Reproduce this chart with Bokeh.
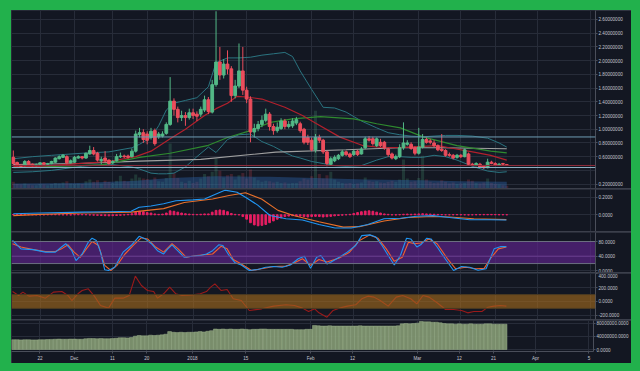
import pandas as pd
from bokeh.plotting import figure
from bokeh.layouts import column
from bokeh.models import (Range1d, FixedTicker, NumeralTickFormatter, BoxAnnotation,
                          Span, Label, ColumnDataSource, GlobalInlineStyleSheet)
from bokeh.embed import file_html
from bokeh.resources import INLINE

# ---------------- data ----------------
BASE = pd.Timestamp("2017-11-22")


def day(s):
    return (pd.Timestamp(s) - BASE).days


first_candle = "2017-11-15"
opens = [0.59, 0.515, 0.476, 0.47, 0.53, 0.49, 0.47, 0.49, 0.51, 0.49, 0.50, 0.52, 0.57, 0.59, 0.60, 0.51, 0.52,
         0.58, 0.60, 0.58, 0.64, 0.69, 0.65, 0.54, 0.58, 0.55, 0.51, 0.54, 0.60, 0.61, 0.61, 0.60,
         0.68, 0.92, 0.95, 0.93, 0.88, 0.98, 0.89, 0.90, 0.94, 1.07, 1.41, 1.29, 1.17, 1.20, 1.17,
         1.24, 1.22, 1.22, 1.28, 1.43, 1.25, 1.65, 1.98, 1.79, 1.95, 1.88, 1.49, 1.63, 1.85, 1.57,
         1.44, 0.96, 1.01, 1.07, 1.13, 1.22, 1.04, 0.98, 1.01, 1.12, 1.04, 1.05, 1.09, 1.08, 1.00,
         0.88, 0.84, 0.70, 0.88, 0.84, 0.67, 0.49, 0.54, 0.57, 0.62, 0.67, 0.64, 0.63, 0.68, 0.64,
         0.73, 0.86, 0.86, 0.76, 0.81, 0.81, 0.71, 0.64, 0.57, 0.60, 0.73, 0.78, 0.78, 0.73, 0.65,
         0.74, 0.85, 0.83, 0.80, 0.76, 0.71, 0.69, 0.63, 0.62, 0.59, 0.62, 0.60, 0.64, 0.49, 0.47,
         0.49, 0.47, 0.44, 0.52, 0.50, 0.48, 0.50, 0.485]
closes = [0.50, 0.476, 0.46, 0.53, 0.49, 0.47, 0.48, 0.51, 0.49, 0.50, 0.53, 0.58, 0.60, 0.62, 0.51, 0.54, 0.59,
          0.60, 0.58, 0.65, 0.69, 0.64, 0.55, 0.56, 0.54, 0.50, 0.53, 0.60, 0.61, 0.60, 0.59, 0.68,
          0.93, 0.95, 0.85, 0.84, 0.97, 0.79, 0.93, 0.93, 1.07, 1.41, 1.29, 1.17, 1.20, 1.17, 1.24,
          1.20, 1.19, 1.29, 1.43, 1.26, 1.65, 1.98, 1.79, 1.95, 1.88, 1.49, 1.63, 1.85, 1.57, 1.44,
          0.96, 1.01, 1.07, 1.13, 1.22, 1.04, 0.98, 1.03, 1.12, 1.04, 1.07, 1.12, 1.14, 0.98, 0.81,
          0.81, 0.70, 0.88, 0.84, 0.67, 0.50, 0.57, 0.59, 0.62, 0.67, 0.63, 0.60, 0.68, 0.63, 0.71,
          0.86, 0.84, 0.79, 0.86, 0.76, 0.73, 0.63, 0.58, 0.60, 0.73, 0.80, 0.80, 0.72, 0.65, 0.74,
          0.85, 0.81, 0.81, 0.76, 0.70, 0.69, 0.62, 0.62, 0.58, 0.62, 0.60, 0.70, 0.49, 0.48, 0.50,
          0.45, 0.44, 0.52, 0.50, 0.48, 0.49, 0.49, 0.4716]
highs = [0.69, 0.53, 0.49, 0.55, 0.55, 0.50, 0.50, 0.52, 0.52, 0.51, 0.54, 0.59, 0.62, 0.64, 0.62, 0.56, 0.61,
         0.62, 0.61, 0.66, 0.76, 0.74, 0.67, 0.60, 0.68, 0.56, 0.55, 0.64, 0.66, 0.63, 0.63, 0.72,
         0.98, 1.02, 1.00, 0.97, 1.02, 1.01, 0.96, 0.97, 1.10, 1.76, 1.45, 1.33, 1.27, 1.25, 1.30,
         1.30, 1.26, 1.33, 1.49, 1.47, 1.72, 2.72, 2.20, 2.02, 2.15, 1.92, 1.72, 2.25, 2.20, 1.62,
         1.48, 1.08, 1.12, 1.20, 1.30, 1.25, 1.08, 1.10, 1.16, 1.15, 1.12, 1.16, 1.18, 1.11, 1.02,
         0.92, 0.88, 0.93, 0.92, 0.86, 0.69, 0.60, 0.62, 0.64, 0.70, 0.69, 0.66, 0.70, 0.70, 0.74,
         0.89, 0.90, 0.89, 0.88, 0.86, 0.83, 0.73, 0.66, 0.63, 0.78, 1.10, 0.84, 0.81, 0.75, 1.02,
         0.93, 0.88, 0.86, 0.84, 0.78, 0.93, 0.71, 0.66, 0.64, 0.64, 0.64, 0.72, 0.66, 0.51, 0.52,
         0.51, 0.48, 0.57, 0.54, 0.52, 0.51, 0.51, 0.49]
lows = [0.48, 0.46, 0.45, 0.46, 0.48, 0.46, 0.46, 0.48, 0.48, 0.48, 0.49, 0.51, 0.56, 0.58, 0.49, 0.50, 0.51,
        0.57, 0.56, 0.57, 0.63, 0.62, 0.53, 0.49, 0.52, 0.48, 0.49, 0.53, 0.58, 0.58, 0.57, 0.59,
        0.66, 0.88, 0.80, 0.78, 0.85, 0.76, 0.86, 0.88, 0.92, 1.05, 1.20, 1.10, 1.12, 1.05, 1.14,
        1.15, 1.12, 1.18, 1.25, 1.22, 1.23, 1.62, 1.72, 1.74, 1.80, 1.40, 1.45, 1.60, 1.50, 1.38,
        0.81, 0.88, 0.97, 1.03, 1.10, 0.98, 0.92, 0.95, 0.99, 1.00, 1.01, 1.02, 1.06, 0.95, 0.78,
        0.77, 0.68, 0.66, 0.80, 0.64, 0.46, 0.47, 0.52, 0.55, 0.60, 0.61, 0.58, 0.61, 0.61, 0.63,
        0.71, 0.82, 0.76, 0.74, 0.74, 0.70, 0.60, 0.56, 0.55, 0.58, 0.70, 0.76, 0.70, 0.62, 0.63,
        0.72, 0.79, 0.78, 0.74, 0.68, 0.67, 0.60, 0.60, 0.56, 0.57, 0.58, 0.59, 0.47, 0.46, 0.46,
        0.44, 0.42, 0.43, 0.49, 0.47, 0.47, 0.48, 0.465]
volumes_m = [1.2, 0.8, 0.7, 0.9, 0.7, 0.6, 0.6, 0.8, 0.7, 0.6, 0.8, 1.0, 0.9, 1.1, 1.3, 0.9, 0.8,
             0.9, 0.8, 1.3, 1.6, 1.2, 1.5, 0.9, 1.4, 1.2, 1.0, 1.4, 2.3, 1.4, 1.2, 1.8,
             2.5, 2.0, 1.8, 1.7, 1.5, 2.0, 1.3, 1.2, 1.9,
             8.1,
             2.8, 1.9, 1.2, 1.0, 1.4, 1.0, 1.2, 1.8, 2.6, 2.2, 3.0,
             5.4,
             3.2, 2.0, 2.4, 2.6, 1.6, 2.4, 2.8, 1.8, 3.4, 2.0, 1.5, 1.2, 1.4, 1.3, 1.1, 1.2, 1.0, 1.1,
             0.9, 1.0, 1.0, 1.3, 1.8, 1.6, 2.2,
             14.0,
             2.6, 1.8, 2.4, 3.0, 1.6, 1.2, 1.0, 0.9, 1.0, 0.8, 0.9, 1.1, 2.0, 1.4, 1.2, 1.3, 1.1, 1.0,
             1.2, 1.4, 1.2, 1.6,
             5.2,
             1.8, 1.2, 1.3, 1.9,
             5.9,
             1.6, 1.2, 1.0, 1.1, 1.5, 1.2, 0.9, 1.1, 0.8, 0.9, 1.0, 1.6, 1.4, 1.0, 0.9, 1.1, 1.8, 1.0,
             0.8, 0.7, 0.6, 0.5]
vol_ma_days = [-7, 10, 25, 34, 46, 60, 72, 85, 100, 110, 122]
vol_ma_m = [0.9, 1.0, 1.4, 1.9, 2.2, 2.1, 1.9, 1.6, 1.5, 1.3, 1.2]

ma_red_days = [-7, 0, 10, 18, 25, 29, 34, 38, 43, 46, 49, 51.5, 54, 58, 64, 68.6, 72.3, 78.4, 84.5, 90, 95,
               100, 104, 107, 113.4, 117.8, 122]
ma_red = [0.455, 0.46, 0.50, 0.53, 0.60, 0.68, 0.86, 1.00, 1.20, 1.30, 1.38, 1.48, 1.47, 1.44, 1.32, 1.20,
          1.08, 0.885, 0.76, 0.73, 0.735, 0.75, 0.76, 0.73, 0.665, 0.62, 0.55]
ma_green_days = [-7, 0, 10, 16, 26, 34, 43.7, 49, 55, 60.2, 66, 73.3, 82, 88, 94.2, 100.3, 109, 117.8, 122]
ma_green = [0.44, 0.45, 0.47, 0.48, 0.59, 0.65, 0.76, 0.88, 0.98, 1.10, 1.15, 1.185, 1.15, 1.08, 1.02,
            0.885, 0.76, 0.68, 0.656]
ma_grey_days = [-7, 10, 26, 42, 61.6, 80, 94, 105, 122]
ma_grey = [0.485, 0.50, 0.535, 0.56, 0.666, 0.70, 0.73, 0.73, 0.715]

bb_days = [-7, -2, 3, 11, 18, 24, 26, 29, 31, 33, 35, 38, 41, 44, 46, 49, 52, 55, 58, 61, 64, 66, 68, 71,
           74, 77, 80, 84, 88, 91, 94, 97, 100, 103, 106, 109, 113, 117, 120, 122]
bb_upper = [0.57, 0.60, 0.62, 0.65, 0.67, 0.73, 0.78, 0.88, 1.05, 1.28, 1.38, 1.42, 1.46, 1.62, 1.97, 2.04,
            2.04, 2.05, 2.08, 2.10, 2.12, 2.06, 1.85, 1.58, 1.32, 1.31, 1.25, 1.12, 1.02, 0.95, 0.92, 0.90,
            0.89, 0.90, 0.91, 0.91, 0.90, 0.87, 0.80, 0.74]
bb_lower = [0.37, 0.38, 0.40, 0.46, 0.49, 0.45, 0.42, 0.36, 0.35, 0.35, 0.36, 0.45, 0.60, 0.74, 0.66, 0.85,
            0.92, 0.93, 0.82, 0.75, 0.66, 0.61, 0.58, 0.53, 0.50, 0.47, 0.46, 0.47, 0.55, 0.60, 0.60, 0.59,
            0.59, 0.62, 0.60, 0.55, 0.46, 0.39, 0.37, 0.38]

price_lines = [0.88736495, 0.47163104, 0.44177083]

macd_days = [-7, 0, 11, 18, 23.8, 25.9, 29, 32.3, 35.5, 40, 43, 45.1, 48.3, 51.5, 53.7, 56.9, 60.1, 64.3,
             68.6, 72.9, 77.1, 81.4, 85.7, 89.9, 94.2, 98.5, 102.7, 107, 112.3, 117.7, 121.9]
macd_line = [0.011, 0.02, 0.03, 0.035, 0.04, 0.086, 0.10, 0.125, 0.16, 0.17, 0.18, 0.22, 0.28, 0.257, 0.20,
             0.11, -0.008, -0.045, -0.06, -0.11, -0.15, -0.15, -0.11, -0.045, -0.04, -0.016, -0.01, -0.03,
             -0.057, -0.057, -0.06]
signal_days = [-7, 0, 11, 23.8, 32.3, 37.7, 45.1, 49.4, 53.7, 57.9, 62.2, 66.5, 72.9, 79.3, 83.5, 89.9,
               96.3, 102.7, 107, 113.4, 121.9]
signal_line = [-0.01, 0.005, 0.02, 0.03, 0.07, 0.14, 0.18, 0.22, 0.25, 0.18, 0.05, -0.01, -0.08, -0.14,
               -0.135, -0.07, -0.03, -0.02, -0.025, -0.045, -0.055]
macd_hist = [0.003, 0.004, 0.003, 0.002, 0.002, 0.001, 0.0, -0.001, 0.0, 0.002, 0.003, 0.003, 0.002, 0.0,
             0.0, -0.002, 0.002, 0.004, 0.004, 0.002, -0.002, -0.004, -0.006, -0.008,
             -0.01, -0.012, -0.01, -0.008, -0.005, -0.002, 0.005, 0.012,
             0.03, 0.04, 0.035, 0.025, 0.02, 0.01, 0.005, 0.008,
             0.02, 0.045, 0.04, 0.03, 0.02,
             0.012, 0.008, 0.005, 0.004, 0.006, 0.01, 0.01,
             0.03, 0.05, 0.055, 0.05, 0.035, 0.015, 0.005, 0.0,
             -0.02, -0.05, -0.09, -0.115, -0.125, -0.12, -0.11, -0.09, -0.07, -0.05, -0.035, -0.02,
             -0.015, -0.01, -0.012, -0.015, -0.02, -0.025, -0.02, -0.018, -0.02, -0.025, -0.022, -0.018,
             -0.012, -0.008, -0.004, 0.0, 0.005,
             0.015, 0.025, 0.035, 0.042, 0.045, 0.04, 0.03, 0.02, 0.01, 0.005,
             0.0, -0.002, 0.002, 0.006, 0.008, 0.006,
             0.008, 0.01, 0.012, 0.01, 0.008, 0.006, 0.004, 0.002, 0.0, 0.0,
             0.002, 0.003, 0.002, 0.0, -0.002, 0.0, 0.002, 0.003, 0.004, 0.004, 0.004, 0.003, 0.002,
             0.002, 0.001]

stoch_k_days = [-7.2, -5, -1.8, 1.4, 4, 5.6, 6.7, 8.3, 9.4, 11, 12.6, 13.6, 14.7, 15.8, 16.9, 17.9, 19.5,
                21.7, 23.8, 25.9, 27.5, 29.1, 30.7, 32.3, 33.4, 34.5, 35.5, 37.7, 39.8, 41.9, 43.5, 45.1,
                46.7, 47.8, 49.4, 51, 52.6, 54.7, 56.9, 59, 61.1, 63.3, 65.4, 67.5, 69.1, 70.7, 72.3,
                73.4, 75, 76.1, 78.2, 80.3, 82.5, 84.1, 86.2, 87.8, 89.4, 91, 92.6, 94.2, 95.8, 96.9,
                98.5, 99.5, 101.1, 102.2, 103.8, 105.9, 108.1, 110.2, 112.3, 114.5, 116.6, 118.7, 120.3,
                121.9]
stoch_k = [83, 60, 58, 51, 51, 65, 74, 55, 28, 46, 78, 89, 83, 51, 3, 1, 10, 51, 69, 94, 87, 74, 55, 46,
           60, 71, 60, 37, 40, 42, 46, 55, 71, 69, 42, 22, 16, 1, 4, 10, 12, 10, 16, 33, 40, 7, 37, 42, 19,
           24, 37, 51, 69, 96, 98, 92, 69, 42, 16, 42, 89, 87, 65, 71, 89, 87, 65, 33, 1, 12, 10, 2, 6, 60,
           66, 66]
stoch_d_days = [-7.2, -5, -1.8, 1.4, 4, 5.6, 7.3, 8.9, 10.5, 12.1, 13.6, 15.3, 16.9, 18.5, 20.1, 22.2,
                24.3, 26.4, 28.1, 30.2, 32.3, 34.5, 36.1, 38.2, 40.9, 43, 45.1, 47.3, 48.9, 50.5, 52.6,
                55.3, 57.9, 61.1, 64.3, 66.5, 68.6, 70.7, 72.9, 75, 78.2, 80.9, 83.5, 86.2, 88.3, 90.5,
                92.6, 94.7, 96.3, 97.9, 99.5, 101.7, 103.8, 106.5, 108.6, 111.3, 114, 116.1, 117.7,
                119.8, 121.9]
stoch_d = [74, 65, 58, 53, 53, 60, 71, 51, 37, 60, 80, 69, 15, 1, 15, 46, 69, 90, 87, 65, 51, 74, 60, 37,
           42, 44, 46, 67, 60, 31, 19, 1, 6, 12, 13, 22, 33, 15, 31, 24, 35, 51, 83, 98, 89, 60, 26, 37,
           78, 74, 76, 87, 74, 33, 6, 10, 6, 7, 33, 60, 65]

cci_days = [-7.2, -5.6, -4.5, -2.9, -0.8, 1.4, 3.5, 5.7, 7.3, 8.3, 9.9, 11, 12.6, 14.2, 15.8, 17.9, 19.5,
            21.7, 23.3, 24.9, 26.5, 28.1, 29.7, 30.7, 32.3, 33.9, 35.5, 37.1, 39.8, 41.9, 43.5, 44.6,
            45.7, 47.3, 48.9, 50.5, 52.6, 54.7, 57.9, 61.1, 64.3, 66.5, 68.6, 70.2, 71.8, 72.9, 75,
            76.6, 78.2, 80.3, 82.5, 84.1, 85.7, 87.3, 88.9, 91, 93.1, 94.8, 96.9, 98.5, 100.1, 101.7,
            103.8, 106, 108.1, 110.2, 111.8, 113.4, 115.5, 117.1, 118.7, 120.3, 121.9]
cci = [144, 87, 135, 77, 87, 48, 135, 144, 87, 14, 111, 159, 183, 77, -58, -96, 48, 48, 87, 366, 231, 159,
       144, 48, 111, 207, 111, 87, 96, 111, 144, 207, 255, 159, 173, 39, 14, -130, -106, -67, -48, -58,
       -96, -144, -106, -164, -226, -130, -96, -67, -48, 39, 77, 63, 14, -67, 63, 87, 39, -34, 87, 63,
       -19, -116, -116, -130, -164, -144, -144, -82, -67, -58, -67]

obv_m = [30, 30, 29.5, 30, 30, 29.5, 29.5, 30, 30,
         30.5, 31, 31.5, 32, 31.5, 31.5, 32, 32, 31.5, 31.5,
         33, 34, 33.5, 33, 33.5, 33,
         33, 33.5, 34.5, 36,
         36, 35.5, 37,
         41, 43, 42, 42,
         44, 43, 44, 45, 47,
         55,
         53, 52, 53, 52, 53, 53, 54, 55, 54, 56,
         58, 63,
         62, 63, 62, 63, 62, 62, 63, 62, 61, 62, 62, 63, 63, 62, 62, 62, 62, 62, 62, 62, 61, 61, 61, 62, 62,
         74,
         73, 72, 72, 73, 72, 72, 72, 72, 72, 72, 72, 73, 72, 72, 72, 72, 72, 72, 72, 72, 72, 73,
         79,
         80, 79, 80, 81,
         86,
         85, 85, 84, 84, 82, 80, 79, 79, 78, 79, 78, 78, 79, 78, 78, 78, 79, 79, 78, 78, 78, 78]

tick_dates = ["2017-11-22", "2017-12-01", "2017-12-11", "2017-12-20", "2018-01-01", "2018-01-15",
              "2018-02-01", "2018-02-12", "2018-03-01", "2018-03-12", "2018-03-21", "2018-04-01",
              "2018-04-15"]
tick_labels = ["22", "Dec", "11", "20", "2018", "15", "Feb", "12", "Mar", "12", "21", "Apr", "5"]

# ---------------- styling ----------------
BG = "#131722"
GRID = "#272c39"
AXL = "#4a4e5a"
TXT = "#c3c6ce"
FONT = "Liberation Sans"
FS = "4.6px"
UP = "#53b987"
DN = "#eb4d5c"
FRAME_W = 584
RIGHT_W = 36

start = day(first_candle)
days = [start + i for i in range(len(opens))]
tick_pos = [day(t) for t in tick_dates]
xr = Range1d(-7.47, 145.2)


def pane(fh, y0, y1, ticks, fmt, grid_ticks=None, last=False):
    f = figure(frame_width=FRAME_W, frame_height=fh, x_range=xr, y_range=Range1d(y0, y1),
               output_backend="svg", toolbar_location=None,
               x_axis_location="below" if last else None, y_axis_location="right",
               min_border_left=0, min_border_right=RIGHT_W, min_border_top=0,
               min_border_bottom=10 if last else 0,
               background_fill_color=BG, border_fill_color=BG, outline_line_color=None)
    ax = f.yaxis[0]
    ax.ticker = FixedTicker(ticks=ticks)
    ax.formatter = NumeralTickFormatter(format=fmt)
    ax.major_label_text_font_size = FS
    ax.major_label_text_font = FONT
    ax.major_label_text_color = TXT
    ax.axis_line_color = AXL
    ax.major_tick_line_color = AXL
    ax.major_tick_out = 2
    ax.major_tick_in = 0
    ax.minor_tick_line_color = None
    ax.major_label_standoff = 1
    f.ygrid.ticker = FixedTicker(ticks=grid_ticks if grid_ticks is not None else ticks)
    f.ygrid.grid_line_color = GRID
    f.xgrid.ticker = FixedTicker(ticks=tick_pos)
    f.xgrid.grid_line_color = GRID
    if last:
        xa = f.xaxis[0]
        xa.ticker = FixedTicker(ticks=tick_pos)
        xa.major_label_overrides = {p: l for p, l in zip(tick_pos, tick_labels)}
        xa.major_label_text_font_size = FS
        xa.major_label_text_font = FONT
        xa.major_label_text_color = TXT
        xa.axis_line_color = AXL
        xa.major_tick_line_color = AXL
        xa.major_tick_out = 2
        xa.major_tick_in = 0
        xa.minor_tick_line_color = None
        xa.major_label_standoff = 2
    return f


# ---------------- main price pane ----------------
main = pane(178, 0.136, 2.731, [0.2, 0.6, 0.8, 1.0, 1.2, 1.4, 1.6, 1.8, 2.0, 2.2, 2.4, 2.6], "0.00000000",
            grid_ticks=[0.2, 0.4, 0.6, 0.8, 1.0, 1.2, 1.4, 1.6, 1.8, 2.0, 2.2, 2.4, 2.6])
main.extra_y_ranges = {"vol": Range1d(0, 32)}

colors = [UP if c >= o else DN for o, c in zip(opens, closes)]
src = ColumnDataSource(dict(x=days, o=opens, h=highs, l=lows, c=closes, col=colors,
                            top=[max(o, c) for o, c in zip(opens, closes)],
                            bot=[min(o, c) for o, c in zip(opens, closes)],
                            vol=volumes_m))

main.vbar(x="x", width=0.8, top="vol", bottom=0, y_range_name="vol", source=src,
          fill_color="col", fill_alpha=0.2, line_color=None)
main.varea(x=vol_ma_days, y1=[0] * len(vol_ma_days), y2=vol_ma_m, y_range_name="vol",
           fill_color="#2a5d9f", fill_alpha=0.45)
main.varea(x=bb_days, y1=bb_lower, y2=bb_upper, fill_color="#2d6f86", fill_alpha=0.06)
main.line(bb_days, bb_upper, line_color="#2b7480", line_width=1)
main.line(bb_days, bb_lower, line_color="#2b7480", line_width=1)
main.line(ma_grey_days, ma_grey, line_color="#a0a0a0", line_width=1.1)
main.line(ma_green_days, ma_green, line_color="#2f8a2f", line_width=1.2)
main.line(ma_red_days, ma_red, line_color="#b3202c", line_width=1.2)

main.add_layout(Span(location=price_lines[0], dimension="width", line_color="#6f9cb4", line_width=1))
main.add_layout(Span(location=price_lines[1], dimension="width", line_color="#8e2c3a", line_width=1))
main.add_layout(Span(location=price_lines[2], dimension="width", line_color="#8fb2c6", line_width=1))

main.segment(x0="x", y0="l", x1="x", y1="h", line_color="col", line_width=1, source=src)
main.vbar(x="x", width=0.72, top="top", bottom="bot", fill_color="col", line_color="col", source=src)

lab_styles = [("#8fd3ea", "#0d1b2a", 0), ("#ef5060", "#ffffff", 1), ("#8fd3ea", "#0d1b2a", -4)]
for v, (bgc, tc, off) in zip(price_lines, lab_styles):
    main.add_layout(Label(x=FRAME_W + 2, x_units="screen", y=v, y_offset=off, text=f"{v:.8f}",
                          text_font_size=FS, text_font=FONT, text_color=tc, text_baseline="middle",
                          background_fill_color=bgc, background_fill_alpha=1.0))

# ---------------- MACD ----------------
macd = pane(42, -0.19, 0.2875, [0.0, 0.2], "0.0000")
macd.vbar(x=days, width=0.45, top=macd_hist, bottom=0, fill_color="#e91e63", line_color="#e91e63")
macd.line(signal_days, signal_line, line_color="#e8702a", line_width=1.1)
macd.line(macd_days, macd_line, line_color="#2196f3", line_width=1.1)

# ---------------- Stochastic ----------------
stoch = pane(40, -4.35, 104.5, [0, 40, 80], "0.0000")
stoch.add_layout(BoxAnnotation(bottom=20, top=80, fill_color="#5b2388", fill_alpha=0.7, line_color=None,
                               level="underlay"))
for lv in (20, 80):
    stoch.add_layout(Span(location=lv, dimension="width", line_color="#6b6f80", line_width=1))
stoch.add_layout(Span(location=40, dimension="width", line_color="#6a3f8e", line_width=1))
stoch.line(stoch_d_days, stoch_d, line_color="#f0602e", line_width=1.1)
stoch.line(stoch_k_days, stoch_k, line_color="#2196f3", line_width=1.1)

# ---------------- CCI ----------------
cpane = pane(46, -260, 404, [-200, 0, 200, 400], "0.0000")
cpane.line(cci_days, cci, line_color="#9a1a1a", line_width=1.1)
cpane.add_layout(BoxAnnotation(bottom=-100, top=100, fill_color="#a86d1c", fill_alpha=0.6, line_color=None))
for lv in (-100, 100):
    cpane.add_layout(Span(location=lv, dimension="width", line_color="#4a3a22", line_width=1))

# ---------------- cumulative volume ----------------
obv = pane(31, -6.15e6, 89.2e6, [0, 40e6, 80e6], "0.0000", last=True)
obv.vbar(x=days, width=1.0, top=[v * 1e6 for v in obv_m], bottom=0,
         fill_color="#7e9470", fill_alpha=0.95, line_color="#9db28d", line_width=0.5)

css = GlobalInlineStyleSheet(css="html,body{background:#22b14c !important;}"
                                 "body{margin:10px 0 0 11px !important;}")
p = column(main, macd, stoch, cpane, obv, spacing=1, width=FRAME_W + RIGHT_W,
           styles={"background-color": "#3b3f4b", "overflow": "hidden"}, stylesheets=[css])

open("out.html", "w").write(file_html(p, INLINE))
